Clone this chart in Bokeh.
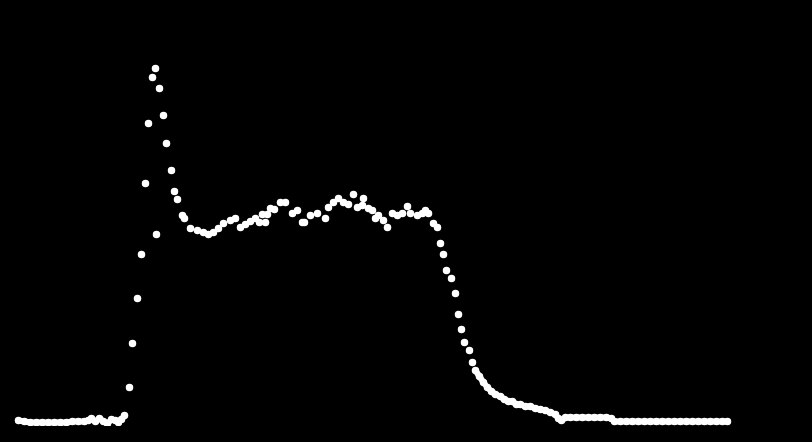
from bokeh.plotting import figure
from bokeh.models import Range1d, ColumnDataSource
from bokeh.embed import file_html
from bokeh.resources import INLINE

# Trace samples (time in screen units, level = 442 - screen row)
time = [18, 24, 30, 36, 42, 48, 54, 60, 66, 72, 78, 84, 88, 91, 95, 99, 103, 107, 111, 115, 118, 121, 124,
        129, 132, 137, 141, 145, 148, 152, 155, 156,
        159, 163, 166, 171, 174, 177, 182, 184, 190, 197, 203, 208, 213, 218, 223, 230, 235, 240, 245,
        250, 255, 259, 262, 265, 267, 270, 274, 280, 285, 292, 297, 302, 304, 310, 317, 325, 328, 333,
        338, 343, 348, 353, 357, 362, 363, 368, 372, 375, 378, 383, 387, 392, 397, 402, 407, 410, 417,
        422, 425, 428, 433, 437,
        440, 443, 446, 451, 455, 458, 461, 464, 469, 472, 475,
        479, 483, 487, 491, 495, 500, 504, 508, 512, 516, 520, 525, 530, 535, 540, 545, 550, 555, 558,
        561, 565, 570, 576, 582, 588, 594, 600, 606, 611, 614, 620, 626, 632, 638, 644, 650, 656, 662,
        668, 674, 680, 686, 692, 698, 704, 710, 716, 722, 727]
row = [420, 421, 422, 422, 422, 422, 422, 422, 422, 421, 421, 421, 420, 418, 421, 418, 421, 423, 419, 420, 422, 419, 415,
       387, 343, 298, 254, 183, 123, 77, 68, 234,
       88, 115, 143, 170, 191, 199, 215, 218, 228, 230, 232, 234, 232, 228, 223, 220, 218, 227, 224,
       221, 218, 222, 214, 222, 214, 208, 209, 202, 202, 213, 210, 222, 222, 215, 213, 218, 207, 202,
       198, 202, 204, 194, 207, 205, 198, 208, 210, 218, 215, 220, 227, 213, 215, 213, 206, 213, 215,
       213, 210, 213, 223, 227,
       243, 254, 270, 278, 293, 314, 329, 342, 350, 362, 370,
       376, 382, 387, 391, 394, 396, 399, 401, 401, 404, 404, 406, 406, 408, 409, 410, 412, 414, 418,
       420, 417, 417, 417, 417, 417, 417, 417, 417, 418, 421, 421, 421, 421, 421, 421, 421, 421, 421,
       421, 421, 421, 421, 421, 421, 421, 421, 421, 421, 421]
level = [442 - r for r in row]

# indices of the densely sampled stretches (drawn as a continuous trace)
base_end = 23
tail_start = time.index(475)

W, H = 796, 426
p = figure(width=W, height=H, output_backend="svg", toolbar_location=None,
           x_range=Range1d(0, W), y_range=Range1d(442 - H, 442),
           min_border=0, background_fill_color="black", border_fill_color="black")
p.axis.visible = False
p.grid.visible = False
p.outline_line_color = None

p.line(time[:base_end], level[:base_end], line_color="white", line_width=6, line_cap="round", line_join="round")
p.line(time[tail_start:], level[tail_start:], line_color="white", line_width=6, line_cap="round", line_join="round")

src = ColumnDataSource(dict(t=time, v=level))
p.scatter("t", "v", source=src, size=7.5, fill_color="white", line_color=None)

html = file_html(p, INLINE)
html = html.replace("<head>", "<head><style>html,body{background:#000;}</style>", 1)
open("out.html", "w").write(html)
